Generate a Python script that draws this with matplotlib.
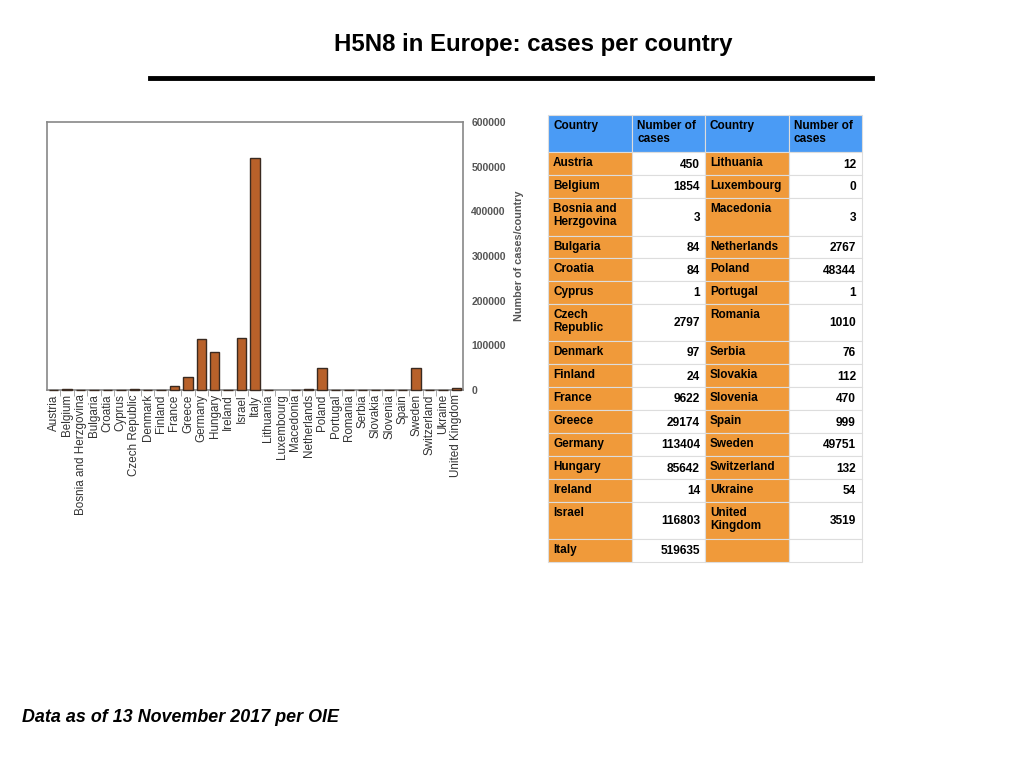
import matplotlib.pyplot as plt
from matplotlib.patches import Rectangle

plt.rcParams['font.family'] = ['Liberation Sans', 'DejaVu Sans']

# Data (OIE, 13 Nov 2017)
countries = ["Austria", "Belgium", "Bosnia and Herzgovina", "Bulgaria", "Croatia",
             "Cyprus", "Czech Republic", "Denmark", "Finland", "France", "Greece",
             "Germany", "Hungary", "Ireland", "Israel", "Italy", "Lithuania",
             "Luxembourg", "Macedonia", "Netherlands", "Poland", "Portugal",
             "Romania", "Serbia", "Slovakia", "Slovenia", "Spain", "Sweden",
             "Switzerland", "Ukraine", "United Kingdom"]
cases = [450, 1854, 3, 84, 84, 1, 2797, 97, 24, 9622, 29174, 113404, 85642, 14,
         116803, 519635, 12, 0, 3, 2767, 48344, 1, 1010, 76, 112, 470, 999,
         49751, 132, 54, 3519]

# table labels (line breaks as in the original)
table_left = ["Austria", "Belgium", "Bosnia and\nHerzgovina", "Bulgaria", "Croatia",
              "Cyprus", "Czech\nRepublic", "Denmark", "Finland", "France", "Greece",
              "Germany", "Hungary", "Ireland", "Israel", "Italy"]
table_right = ["Lithuania", "Luxembourg", "Macedonia", "Netherlands", "Poland",
               "Portugal", "Romania", "Serbia", "Slovakia", "Slovenia", "Spain",
               "Sweden", "Switzerland", "Ukraine", "United\nKingdom", ""]
yticks = [0, 100000, 200000, 300000, 400000, 500000, 600000]

W, H = 1024, 768
fig = plt.figure(figsize=(10.24, 7.68), dpi=100)

# title + rule
fig.text(533 / W, 1 - 45 / H, "H5N8 in Europe: cases per country", ha="center",
         va="center", fontsize=17.3, fontweight="bold")
fig.add_artist(plt.Line2D([150 / W, 872 / W], [1 - 78 / H, 1 - 78 / H], color="black", lw=3.5))

# bar chart
ax = fig.add_axes([47 / W, 1 - 390 / H, (463 - 47) / W, (390 - 122) / H])
x = range(len(countries))
edges = ["#3a2a20" if v > 0 else "none" for v in cases]
ax.bar(x, cases, width=0.7, color="#b8612a", edgecolor=edges, linewidth=1.0,
       zorder=3, clip_on=False)
ax.set_xlim(-0.5, len(countries) - 0.5)
ax.set_ylim(0, 600000)
ax.set_yticks(yticks)
ax.set_yticklabels([str(v) for v in yticks], fontsize=7.5, fontweight="bold", color="#555555")
ax.yaxis.tick_right()
ax.yaxis.set_label_position("right")
ax.set_ylabel("Number of cases/country", fontsize=7.8, fontweight="bold",
              color="#555555", labelpad=6)
ax.tick_params(axis="y", length=0, pad=6)
ax.set_xticks(list(x))
ax.set_xticklabels(countries, rotation=90, fontsize=8.4, color="#333333")
ax.set_xticks([i + 0.5 for i in range(len(countries) - 1)], minor=True)
ax.tick_params(axis="x", which="major", length=0, pad=3)
ax.tick_params(axis="x", which="minor", length=4, color="#999999")
for s in ax.spines.values():
    s.set_color("#888888")
    s.set_linewidth(1.2)

# table drawn in pixel coordinates
tb = fig.add_axes([0, 0, 1, 1])
tb.set_xlim(0, W)
tb.set_ylim(H, 0)
tb.axis("off")
col_x = [548, 632, 705, 789, 862]
blue, orange = "#4a9bf5", "#f09a3a"
header_h = 37
row_h = [23, 23, 38, 22, 23, 23, 37, 23, 23, 23, 23, 23, 23, 23, 37, 23]


def cell(x0, x1, y0, y1, color):
    tb.add_patch(Rectangle((x0, y0), x1 - x0, y1 - y0, facecolor=color,
                           edgecolor="#dddddd", linewidth=0.8))


y = 115
heads = ["Country", "Number of\ncases", "Country", "Number of\ncases"]
for c, h in enumerate(heads):
    cell(col_x[c], col_x[c + 1], y, y + header_h, blue)
    tb.text(col_x[c] + 5, y + 5, h, ha="left", va="top", fontsize=8.5,
            fontweight="bold", linespacing=1.1)
y += header_h

right_vals = cases[16:] + [None]
for i, rh in enumerate(row_h):
    y0, y1 = y, y + rh
    cell(col_x[0], col_x[1], y0, y1, orange)
    cell(col_x[1], col_x[2], y0, y1, "white")
    cell(col_x[2], col_x[3], y0, y1, orange)
    cell(col_x[3], col_x[4], y0, y1, "white")
    tb.text(col_x[0] + 5, y0 + 5, table_left[i], ha="left", va="top", fontsize=8.5,
            fontweight="bold", linespacing=1.1)
    tb.text(col_x[2] + 5, y0 + 5, table_right[i], ha="left", va="top", fontsize=8.5,
            fontweight="bold", linespacing=1.1)
    ym = (y0 + y1) / 2 + 1
    tb.text(col_x[2] - 5, ym, str(cases[i]), ha="right", va="center", fontsize=8.6,
            fontweight="bold")
    if right_vals[i] is not None:
        tb.text(col_x[4] - 6, ym, str(right_vals[i]), ha="right", va="center",
                fontsize=8.6, fontweight="bold")
    y = y1

fig.text(22 / W, 1 - 718 / H, "Data as of 13 November 2017 per OIE", ha="left",
         va="center", fontsize=12.9, fontweight="bold", fontstyle="italic")

fig.savefig("out.png", dpi=100)
